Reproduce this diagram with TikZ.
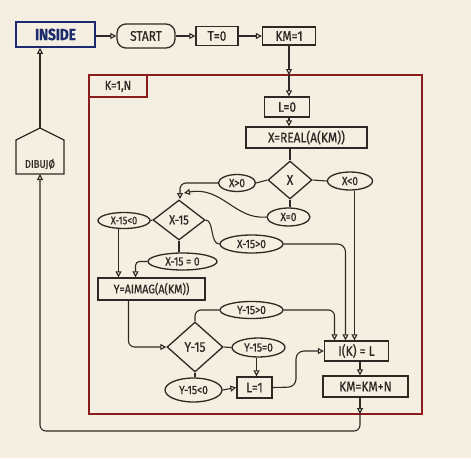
\documentclass[tikz,border=0pt]{standalone}
\usepackage{fontspec}
\setmainfont{Fira Sans}[FakeStretch=0.85,FakeBold=0.8]
\usetikzlibrary{shapes.geometric,arrows.meta}
\definecolor{paper}{HTML}{F4EFE0}
\definecolor{ink}{HTML}{2E2925}
\definecolor{loopred}{HTML}{8A1C1E}
\definecolor{navy}{HTML}{1C2B6E}
\tikzset{
  ink/.style={draw=ink,line width=1.3pt,text=ink},
  boxn/.style={ink,rectangle,inner sep=0pt,font=\fontsize{14}{16}\selectfont},
  ovaln/.style={ink,ellipse,inner sep=0pt,font=\fontsize{12}{13}\selectfont},
  dian/.style={ink,diamond,inner sep=0pt,font=\fontsize{14}{16}\selectfont},
  conn/.style={draw=ink,line width=1.1pt},
  arr/.style={conn,-{Triangle[open,length=6pt,width=6pt]}},
}
\begin{document}
\begin{tikzpicture}[x=1pt,y=-1pt]
\fill[paper] (0,0) rectangle (471,458);
\useasboundingbox (0,0) rectangle (471,458);

% loop frame
\draw[draw=loopred,line width=1.6pt] (89,75) rectangle (422,414);
\draw[draw=loopred,line width=1.4pt] (89,75) rectangle (147,97);
\node[text=ink,font=\fontsize{13}{14}\selectfont] (kn) at (118,86.5) {K=1,N};

% top row
\node[draw=navy,line width=1.6pt,text=navy,rectangle,inner sep=0pt,minimum width=79pt,minimum height=25pt,font=\fontsize{16}{18}\selectfont\bfseries] (inside) at (55.5,34.5) {INSIDE};
\node[boxn,rounded corners=9pt,minimum width=58pt,minimum height=24pt] (start) at (146,36) {START};
\node[boxn,minimum width=42pt,minimum height=19pt] (t0) at (217,36) {T=0};
\node[boxn,minimum width=53pt,minimum height=18pt] (km1) at (289,36) {KM=1};

\node[boxn,minimum width=45pt,minimum height=20pt] (l0) at (287,107) {L=0};
\node[boxn,minimum width=121pt,minimum height=21pt] (xreal) at (306.5,137.5) {X=REAL(A(KM))};

% X decision
\node[dian,minimum width=44pt,minimum height=38pt] (xdia) at (290,180) {X};
\node[ovaln,minimum width=37pt,minimum height=17pt] (xgt) at (237,183) {X>0};
\node[ovaln,minimum width=45pt,minimum height=18pt] (xlt) at (350,181) {X<0};
\node[ovaln,minimum width=43pt,minimum height=18pt] (xeq) at (288.5,217) {X=0};

% X-15 decision
\node[dian,minimum width=52pt,minimum height=40pt,font=\fontsize{13}{14}\selectfont] (x15dia) at (179,220) {X-15};
\node[ovaln,minimum width=52pt,minimum height=16pt,font=\fontsize{11}{12}\selectfont] (x15lt) at (124,220.5) {X-15<0};
\node[ovaln,minimum width=69pt,minimum height=17pt] (x15eq) at (182.5,261.5) {X-15 = 0};
\node[ovaln,minimum width=63pt,minimum height=18pt] (x15gt) at (251.5,244) {X-15>0};

\node[boxn,minimum width=107pt,minimum height=22pt,font=\fontsize{12.5}{14}\selectfont] (yaimag) at (151.5,289) {Y=AIMAG(A(KM))};

% Y-15 decision
\node[dian,minimum width=56pt,minimum height=50pt] (ydia) at (195,347) {Y-15};
\node[ovaln,minimum width=63pt,minimum height=17pt] (y15gt) at (251.5,310) {Y-15>0};
\node[ovaln,minimum width=53pt,minimum height=19pt] (y15eq) at (258.5,347.5) {Y-15=0};
\node[ovaln,minimum width=57pt,minimum height=24pt] (y15lt) at (193.5,390) {Y-15<0};
\node[boxn,minimum width=35pt,minimum height=21pt] (l1) at (254.5,387.5) {L=1};

\node[boxn,minimum width=64pt,minimum height=20pt] (ik) at (356.5,351) {I(K) = L};
\node[boxn,minimum width=85pt,minimum height=21pt] (kmkm) at (365.5,386.5) {KM=KM+N};

% DIBUJO
\draw[ink] (16,174) -- (16,140) -- (40,128) -- (64,140) -- (64,174) -- cycle;
\node[text=ink,font=\fontsize{11}{12}\selectfont] (dibujo) at (40,164) {DIBUJØ};
\coordinate (dtop) at (40,128);
\coordinate (dbot) at (40,174);

\coordinate (looptop) at (289,75);
\coordinate (colx) at (360,0);
\coordinate (loopbot) at (360,414);
\coordinate (botright) at (360,431);
\coordinate (botleft) at (40,431);

% connectors top
\draw[arr] (inside.east |- start) -- (start.west);
\draw[arr] (start.east) -- (t0.west);
\draw[arr] (t0.east) -- (km1.west);
\draw[arr] (km1.south) -- (looptop);
\draw[arr] (looptop) -- (looptop |- l0.north);
\draw[arr] (looptop |- l0.south) -- (looptop |- xreal.north);
\draw[conn] (xdia.north |- xreal.south) -- (xdia.north);

% X branches
\draw[conn] (xdia.west) -- (xgt.east);
\draw[conn] (xdia.east) -- (xlt.west);
\draw[conn] (xdia.south) -- (xdia.south |- xeq.north);
\draw[arr,rounded corners=6pt] (xgt.west) -- (180,183) -- (180,199);
\draw[arr] (xeq.west) .. controls (235,220) and (222,186) .. (184,193);

% X-15 branches
\draw[conn] (x15dia.west) -- (x15lt.east);
\draw[conn] (x15dia.south) -- (x15dia.south |- x15eq.north);
\draw[conn] (x15dia.east) .. controls (214,220) and (210,244) .. (x15gt.west);
\draw[arr] ([xshift=-33pt]yaimag.north |- x15lt.south) -- ([xshift=-33pt]yaimag.north);
\draw[arr,rounded corners=4pt] (x15eq.west) -| ([xshift=-16pt]yaimag.north);
\draw[arr,rounded corners=8pt] (x15gt.east) -| ([xshift=-11pt]ik.north);
\draw[arr] ([xshift=-2pt]ik.north |- xlt.south) -- ([xshift=-2pt]ik.north);
\draw[arr,rounded corners=6pt] (y15gt.east) -| ([xshift=-22pt]ik.north);

% Y branches
\draw[arr,rounded corners=6pt] ([xshift=-23pt]yaimag.south) |- (ydia.west);
\draw[conn,rounded corners=6pt] (ydia.north) |- (y15gt.west);
\draw[conn] (ydia.east) -- (y15eq.west);
\draw[conn] (ydia.south) -- (ydia.south |- y15lt.north);
\draw[arr] (y15lt.east) -- (l1.west);
\draw[arr] ([xshift=-2pt]y15eq.south) -- ([xshift=-2pt]y15eq.south |- l1.north);
\draw[arr,rounded corners=8pt] (l1.east) -- (296,387) -- (296,351) -- (ik.west);

% bottom loop
\draw[arr] (colx |- ik.south) -- (colx |- kmkm.north);
\draw[arr] (colx |- kmkm.south) -- (loopbot);
\draw[arr,rounded corners=6pt] (loopbot) -- (botright) -- (botleft) -- (dbot);
\draw[arr] (dtop) -- (dtop |- inside.south);
\end{tikzpicture}
\end{document}
